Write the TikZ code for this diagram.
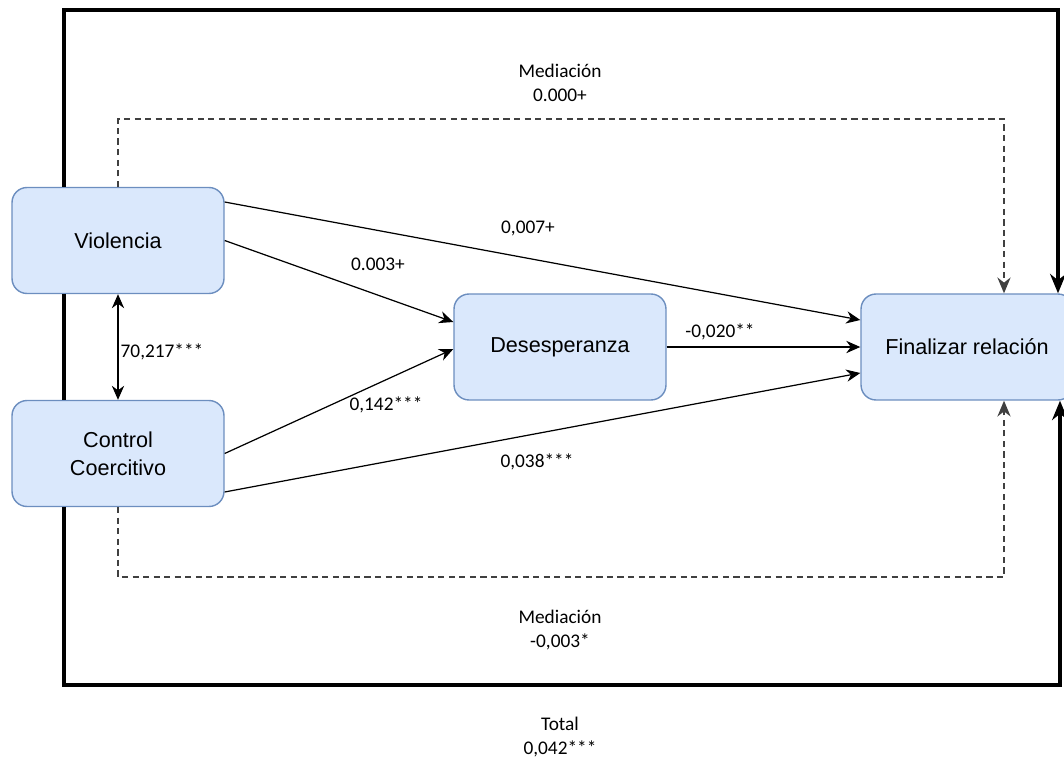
\documentclass[tikz,border=0pt]{standalone}
\usepackage{fontspec}
\setmainfont{Liberation Sans}
\newfontfamily\lblfont{Carlito}
\usepackage{tikz}
\usetikzlibrary{arrows.meta}
\usetikzlibrary{calc}
\usetikzlibrary{positioning}

\definecolor{boxfill}{HTML}{DAE8FC}
\definecolor{boxline}{HTML}{6C8EBF}
\definecolor{dashgray}{HTML}{404040}

\tikzset{
  >={Stealth[length=8pt,width=7pt]},
  box/.style={draw=boxline, fill=boxfill, line width=0.8pt, rounded corners=0.3cm,
    minimum width=4.24cm, minimum height=2.12cm, align=center,
    font=\fontsize{12.3}{15}\selectfont},
  eff/.style={->, line width=0.7pt},
  total/.style={-{Stealth[length=11pt,width=9pt]}, line width=1.9pt},
  med/.style={-{Stealth[length=9pt,width=7.5pt]}, line width=1pt, dashgray,
    dash pattern=on 3.5pt off 2.5pt},
  lbl/.style={font=\lblfont\fontsize{11}{13.5}\selectfont, align=center, inner sep=1pt}
}

\begin{document}
\begin{tikzpicture}[x=0.02cm, y=-0.02cm]
  \useasboundingbox (0,0) rectangle (1064,757);

  % variables
  \node[box] (vio) at (118,240.5) {Violencia};
  \node[box] (cc)  at (118,453.5) {Control\\[1pt]Coercitivo};
  \node[box] (des) at (560,347) {Desesperanza};
  \node[box] (fin) at (967,347) {Finalizar relación};

  % corners of the outer paths
  \coordinate (tl) at (64,10);
  \coordinate (tr) at (1058,10);
  \coordinate (bl) at (64,685);
  \coordinate (br) at (1060,685);
  \coordinate (dtl) at (118,119);
  \coordinate (dtr) at (1004,119);
  \coordinate (dbl) at (118,577);
  \coordinate (dbr) at (1004,577);

  % total effect
  \draw[total] (vio.north -| tl) -- (tl) -- (tr) -- (tr |- fin.north);
  \draw[total] (cc.south -| bl) -- (bl) -- (br) -- (br |- fin.south);
  \draw[total, -] (vio.south -| tl) -- (cc.north -| tl);

  % mediation
  \draw[med] (vio.north) -- (dtl) -- (dtr) -- (dtr |- fin.north);
  \draw[med] (cc.south) -- (dbl) -- (dbr) -- (dbr |- fin.south);

  % direct paths
  \draw[eff, <->] (vio.south) -- (cc.north);
  \draw[eff] ([yshift=0.77cm]vio.east) -- ([yshift=0.54cm]fin.west);
  \draw[eff] (vio.east) -- ([yshift=0.5cm]des.west);
  \draw[eff] (cc.east) -- ([yshift=-0.04cm]des.west);
  \draw[eff] ([yshift=-0.77cm]cc.east) -- ([yshift=-0.52cm]fin.west);
  \draw[eff] (des.east) -- (fin.west);

  % labels
  \node[lbl] (lcor) at (162,352) {70,217***};
  \node[lbl] (lvf) at (528,228) {0,007+};
  \node[lbl] (lvd) at (378,264) {0.003+};
  \node[lbl] (lcd) at (386,405) {0,142***};
  \node[lbl] (lcf) at (537,462) {0,038***};
  \node[lbl] (ldf) at (720,332) {-0,020**};
  \node[lbl] (lmtop) at (560,83) {Mediación\\0.000+};
  \node[lbl] (lmbot) at (560,630) {Mediación\\-0,003*};
  \node[lbl] (ltot) at (560,737) {Total\\0,042***};
\end{tikzpicture}
\end{document}
